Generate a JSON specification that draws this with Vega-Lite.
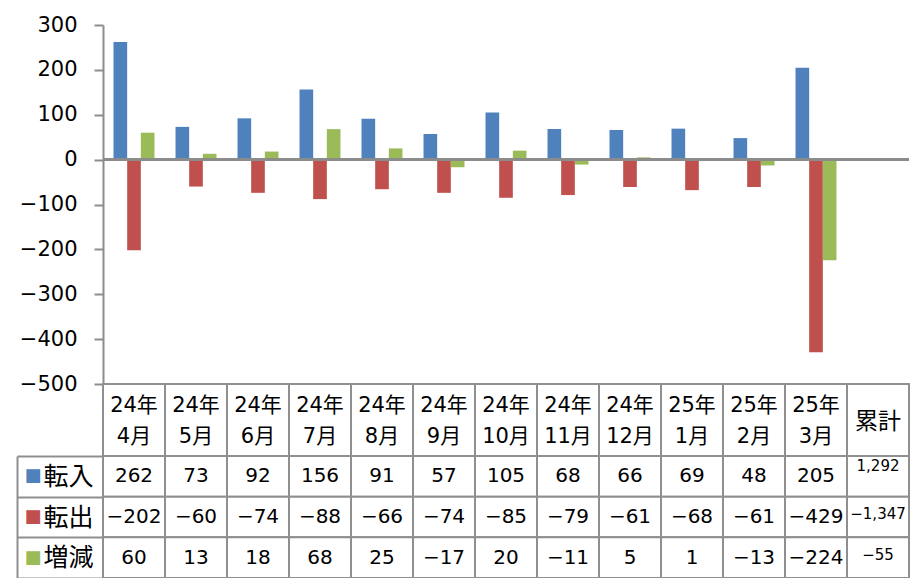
{
  "$schema": "https://vega.github.io/schema/vega-lite/v6.json",
  "padding": {"left": 16, "top": 14, "right": 0, "bottom": 0},
  "spacing": 0,
  "bounds": "flush",
  "config": {"view": {"stroke": null}, "font": "DejaVu Sans"},
  "datasets": {
    "rows": [
      {"col": "24年4月", "series": "転入", "value": 262},
      {"col": "24年5月", "series": "転入", "value": 73},
      {"col": "24年6月", "series": "転入", "value": 92},
      {"col": "24年7月", "series": "転入", "value": 156},
      {"col": "24年8月", "series": "転入", "value": 91},
      {"col": "24年9月", "series": "転入", "value": 57},
      {"col": "24年10月", "series": "転入", "value": 105},
      {"col": "24年11月", "series": "転入", "value": 68},
      {"col": "24年12月", "series": "転入", "value": 66},
      {"col": "25年1月", "series": "転入", "value": 69},
      {"col": "25年2月", "series": "転入", "value": 48},
      {"col": "25年3月", "series": "転入", "value": 205},
      {"col": "累計", "series": "転入", "value": 1292},
      {"col": "24年4月", "series": "転出", "value": -202},
      {"col": "24年5月", "series": "転出", "value": -60},
      {"col": "24年6月", "series": "転出", "value": -74},
      {"col": "24年7月", "series": "転出", "value": -88},
      {"col": "24年8月", "series": "転出", "value": -66},
      {"col": "24年9月", "series": "転出", "value": -74},
      {"col": "24年10月", "series": "転出", "value": -85},
      {"col": "24年11月", "series": "転出", "value": -79},
      {"col": "24年12月", "series": "転出", "value": -61},
      {"col": "25年1月", "series": "転出", "value": -68},
      {"col": "25年2月", "series": "転出", "value": -61},
      {"col": "25年3月", "series": "転出", "value": -429},
      {"col": "累計", "series": "転出", "value": -1347},
      {"col": "24年4月", "series": "増減", "value": 60},
      {"col": "24年5月", "series": "増減", "value": 13},
      {"col": "24年6月", "series": "増減", "value": 18},
      {"col": "24年7月", "series": "増減", "value": 68},
      {"col": "24年8月", "series": "増減", "value": 25},
      {"col": "24年9月", "series": "増減", "value": -17},
      {"col": "24年10月", "series": "増減", "value": 20},
      {"col": "24年11月", "series": "増減", "value": -11},
      {"col": "24年12月", "series": "増減", "value": 5},
      {"col": "25年1月", "series": "増減", "value": 1},
      {"col": "25年2月", "series": "増減", "value": -13},
      {"col": "25年3月", "series": "増減", "value": -224},
      {"col": "累計", "series": "増減", "value": -55}
    ],
    "header": [
      {"col": "24年4月", "label": "24年\n4月"},
      {"col": "24年5月", "label": "24年\n5月"},
      {"col": "24年6月", "label": "24年\n6月"},
      {"col": "24年7月", "label": "24年\n7月"},
      {"col": "24年8月", "label": "24年\n8月"},
      {"col": "24年9月", "label": "24年\n9月"},
      {"col": "24年10月", "label": "24年\n10月"},
      {"col": "24年11月", "label": "24年\n11月"},
      {"col": "24年12月", "label": "24年\n12月"},
      {"col": "25年1月", "label": "25年\n1月"},
      {"col": "25年2月", "label": "25年\n2月"},
      {"col": "25年3月", "label": "25年\n3月"}
    ],
    "header2": [
      {"col": "累計", "label": "累計"}
    ]
  },
  "vconcat": [
    {
      "width": 806,
      "height": 359,
      "data": {"name": "rows"},
      "transform": [{"filter": "datum.col !== '累計'"}],
      "layer": [
        {
          "mark": {"type": "bar"},
          "encoding": {
            "x": {"field": "col", "type": "nominal", "sort": null,
              "scale": {"domain": ["24年4月","24年5月","24年6月","24年7月","24年8月","24年9月","24年10月","24年11月","24年12月","25年1月","25年2月","25年3月","累計"], "paddingInner": 0, "paddingOuter": 0},
              "axis": null},
            "xOffset": {"field": "series", "type": "nominal",
              "scale": {"domain": ["転入","転出","増減"], "paddingInner": 0, "paddingOuter": 0.77}},
            "y": {"field": "value", "type": "quantitative",
              "scale": {"domain": [-500, 300], "nice": false, "zero": false},
              "axis": {"title": null, "values": [-500,-400,-300,-200,-100,0,100,200,300], "grid": false,
                "domainColor": "#8c8c8c", "domainWidth": 2, "tickColor": "#8c8c8c", "tickWidth": 2, "tickSize": 9,
                "labelFont": "DejaVu Sans", "labelFontSize": 21, "labelColor": "black", "labelPadding": 17}},
            "color": {"field": "series", "type": "nominal",
              "scale": {"domain": ["転入","転出","増減"], "range": ["#4F81BD","#C0504D","#9BBB59"]}, "legend": null}
          }
        },
        {
          "mark": {"type": "rule", "color": "#8c8c8c", "strokeWidth": 2},
          "encoding": {"y": {"datum": 0}}
        }
      ]
    },
    {
      "width": 806,
      "height": 72,
      "layer": [
        {
          "data": {"name": "header"},
          "mark": {"type": "rect", "fill": "white", "stroke": "#8f8f8f", "strokeWidth": 2},
          "encoding": {
            "x": {"field": "col", "type": "nominal", "sort": null,
              "scale": {"domain": ["24年4月","24年5月","24年6月","24年7月","24年8月","24年9月","24年10月","24年11月","24年12月","25年1月","25年2月","25年3月","累計"], "paddingInner": 0, "paddingOuter": 0},
              "axis": null}
          }
        },
        {
          "data": {"name": "header2"},
          "mark": {"type": "rect", "fill": "white", "stroke": "#8f8f8f", "strokeWidth": 2},
          "encoding": {
            "x": {"field": "col", "type": "nominal", "sort": null, "axis": null}
          }
        },
        {
          "data": {"name": "header"},
          "mark": {"type": "text", "font": "DejaVu Sans, Noto Sans CJK JP", "fontSize": 21, "lineBreak": "\n", "lineHeight": 31, "baseline": "middle", "color": "black", "dy": -14},
          "encoding": {
            "x": {"field": "col", "type": "nominal", "sort": null, "axis": null},
            "text": {"field": "label"}
          }
        },
        {
          "data": {"name": "header2"},
          "mark": {"type": "text", "font": "Noto Sans CJK JP", "fontSize": 23, "baseline": "middle", "color": "black", "dy": 2},
          "encoding": {
            "x": {"field": "col", "type": "nominal", "sort": null, "axis": null},
            "text": {"field": "label"}
          }
        }
      ]
    },
    {
      "width": 806,
      "height": 122,
      "data": {"name": "rows"},
      "layer": [
        {
          "mark": {"type": "rect", "fill": "white", "stroke": "#8f8f8f", "strokeWidth": 2},
          "encoding": {
            "x": {"field": "col", "type": "nominal", "sort": null,
              "scale": {"domain": ["24年4月","24年5月","24年6月","24年7月","24年8月","24年9月","24年10月","24年11月","24年12月","25年1月","25年2月","25年3月","累計"], "paddingInner": 0, "paddingOuter": 0},
              "axis": null},
            "y": {"field": "series", "type": "nominal",
              "scale": {"domain": ["転入","転出","増減"], "paddingInner": 0, "paddingOuter": 0},
              "axis": {"orient": "left", "title": null, "domain": false, "ticks": true, "tickBand": "extent", "tickSize": 86,
                "tickColor": "#8f8f8f", "tickWidth": 2, "labelFont": "Noto Sans CJK JP", "labelFontSize": 25,
                "labelColor": "black", "labelPadding": -76, "labelAlign": "right", "labelBaseline": "middle"}}
          }
        },
        {
          "transform": [{"filter": "datum.col !== '累計'"}],
          "mark": {"type": "text", "font": "DejaVu Sans", "fontSize": 20, "color": "black", "baseline": "middle"},
          "encoding": {
            "x": {"field": "col", "type": "nominal", "sort": null,
              "scale": {"domain": ["24年4月","24年5月","24年6月","24年7月","24年8月","24年9月","24年10月","24年11月","24年12月","25年1月","25年2月","25年3月","累計"], "paddingInner": 0, "paddingOuter": 0},
              "axis": null},
            "y": {"field": "series", "type": "nominal",
              "scale": {"domain": ["転入","転出","増減"], "paddingInner": 0, "paddingOuter": 0},
              "axis": {"orient": "left", "title": null, "offset": 86, "domain": true, "domainColor": "#8f8f8f", "domainWidth": 2,
                "ticks": false, "tickSize": 0, "labelExpr": "'■'", "labelFont": "DejaVu Sans", "labelFontSize": 18,
                "labelPadding": -7, "labelAlign": "left", "labelBaseline": "middle",
                "labelColor": {"condition": [{"test": "datum.value === '転入'", "value": "#4F81BD"}, {"test": "datum.value === '転出'", "value": "#C0504D"}], "value": "#9BBB59"}}},
            "text": {"field": "value", "type": "quantitative", "format": ",d"}
          }
        },
        {
          "transform": [{"filter": "datum.col === '累計' && datum.series === '転入'"}],
          "mark": {"type": "text", "font": "DejaVu Sans", "fontSize": 15, "color": "black", "baseline": "middle", "dy": -10},
          "encoding": {
            "x": {"field": "col", "type": "nominal", "sort": null,
              "scale": {"domain": ["24年4月","24年5月","24年6月","24年7月","24年8月","24年9月","24年10月","24年11月","24年12月","25年1月","25年2月","25年3月","累計"], "paddingInner": 0, "paddingOuter": 0},
              "axis": null},
            "y": {"field": "series", "type": "nominal", "scale": {"domain": ["転入","転出","増減"], "paddingInner": 0, "paddingOuter": 0}, "axis": null},
            "text": {"field": "value", "type": "quantitative", "format": ",d"}
          }
        },
        {
          "transform": [{"filter": "datum.col === '累計' && datum.series !== '転入'"}],
          "mark": {"type": "text", "font": "DejaVu Sans", "fontSize": 15, "color": "black", "baseline": "middle", "dy": -3},
          "encoding": {
            "x": {"field": "col", "type": "nominal", "sort": null,
              "scale": {"domain": ["24年4月","24年5月","24年6月","24年7月","24年8月","24年9月","24年10月","24年11月","24年12月","25年1月","25年2月","25年3月","累計"], "paddingInner": 0, "paddingOuter": 0},
              "axis": null},
            "y": {"field": "series", "type": "nominal", "scale": {"domain": ["転入","転出","増減"], "paddingInner": 0, "paddingOuter": 0}, "axis": null},
            "text": {"field": "value", "type": "quantitative", "format": ",d"}
          }
        }
      ],
      "resolve": {"axis": {"y": "independent"}}
    }
  ]
}
